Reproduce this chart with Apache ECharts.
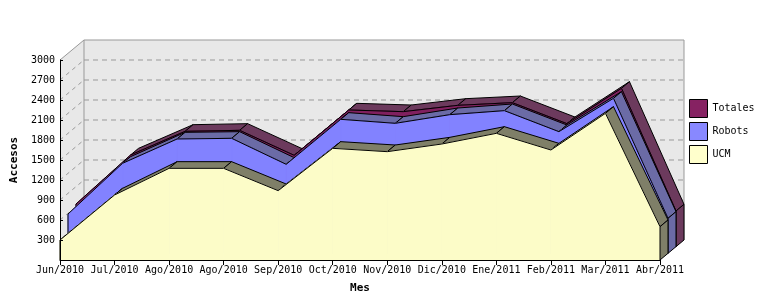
<!DOCTYPE html>
<html><head><meta charset="utf-8">
<script src="https://cdn.jsdelivr.net/npm/echarts@6/dist/echarts.min.js"></script>
<style>html,body{margin:0;padding:0;background:#fff}#c{width:760px;height:300px}</style>
</head><body><div id="c"></div>
<script>
const categories = ['Jun/2010','Jul/2010','Ago/2010','Ago/2010','Sep/2010','Oct/2010','Nov/2010','Dic/2010','Ene/2011','Feb/2011','Mar/2011','Abr/2011'];
const ucm     = [300, 975, 1375, 1375, 1040, 1675, 1625, 1740, 1900, 1650, 2200, 500];
const robots  = [590, 1350, 1715, 1725, 1335, 2010, 1950, 2080, 2140, 1825, 2325, 525];
const totales = [640, 1375, 1730, 1745, 1370, 2050, 2025, 2120, 2160, 1845, 2375, 535];
const yTicks  = [300, 600, 900, 1200, 1500, 1800, 2100, 2400, 2700, 3000];
const seriesNames = ['Totales', 'Robots', 'UCM'];

const MONO = "'DejaVu Sans Mono', 'Liberation Mono', monospace";
const DX = 8, DY = -20 / 3;
const FRONT = { Totales: '#80205f', Robots: '#8282ff', UCM: '#fcfcc8' };
const SIDE  = { Totales: '#6c3a5d', Robots: '#6b6ba6', UCM: '#7f7f68' };
const LEG   = { Totales: '#862262', Robots: '#8888ff', UCM: '#ffffcc' };

const chart = echarts.init(document.getElementById('c'));

function layer(name, values, k, z) {
  const front = FRONT[name], side = SIDE[name];
  return {
    type: 'custom', name: name, z: z,
    itemStyle: { color: LEG[name] },
    data: values.map((v, i) => [i, v]),
    renderItem: function (params, api) {
      const i = params.dataIndex, n = values.length;
      const ox = DX * k, oy = DY * k;
      const P = (x, v) => { const c = api.coord([x, v]); return [c[0] + ox, c[1] + oy]; };
      const sh = (p) => [p[0] + DX, p[1] + DY];
      const ch = [];
      const p0 = P(i, values[i]), b0 = P(i, 0);
      if (i < n - 1) {
        const p1 = P(i + 1, values[i + 1]), b1 = P(i + 1, 0);
        ch.push({ type: 'polygon', z2: 2, shape: { points: [p0, p1, b1, b0] },
                  style: { fill: front, stroke: front, lineWidth: 1 } });
        const sx = p1[0] - p0[0], sy = p1[1] - p0[1];
        if (sx * DY - sy * DX < 0) {
          ch.push({ type: 'polygon', z2: 1, shape: { points: [p0, p1, sh(p1), sh(p0)] },
                    style: { fill: side, stroke: '#000', lineWidth: 1 } });
        }
        ch.push({ type: 'polyline', z2: 4, shape: { points: [p0, p1] },
                  style: { stroke: '#000', lineWidth: 1, fill: null } });
      } else {
        ch.push({ type: 'polygon', z2: 3, shape: { points: [p0, sh(p0), sh(b0), b0] },
                  style: { fill: side, stroke: '#000', lineWidth: 1 } });
      }
      if (i === 0) {
        ch.push({ type: 'polyline', z2: 4, shape: { points: [p0, b0] },
                  style: { stroke: '#000', lineWidth: 1, fill: null } });
      }
      return { type: 'group', children: ch };
    }
  };
}

const walls = {
  type: 'custom', name: '_walls', z: 1, silent: true,
  data: [[0, 0]],
  renderItem: function (params, api) {
    const D = [DX * 3, DY * 3];
    const n = categories.length - 1;
    const bl = api.coord([0, 0]), tl = api.coord([0, 3000]), br = api.coord([n, 0]);
    const s = (p) => [p[0] + D[0], p[1] + D[1]];
    const ch = [];
    ch.push({ type: 'polygon', shape: { points: [tl, s(tl), s(bl), bl] },
              style: { fill: '#e8e8e8' } });
    const btl = s(tl), bbr = s(br);
    ch.push({ type: 'rect', shape: { x: btl[0], y: btl[1], width: bbr[0] - btl[0], height: bbr[1] - btl[1] },
              style: { fill: '#e8e8e8', stroke: '#999', lineWidth: 1 } });
    ch.push({ type: 'line', shape: { x1: tl[0], y1: tl[1], x2: btl[0], y2: btl[1] },
              style: { stroke: '#999', lineWidth: 1 } });
    yTicks.forEach(v => {
      const p = api.coord([0, v]);
      ch.push({ type: 'line', shape: { x1: btl[0], y1: p[1], x2: bbr[0], y2: p[1] },
                style: { stroke: '#999', lineWidth: 1, lineDash: [5, 4] } });
      ch.push({ type: 'line', shape: { x1: p[0], y1: p[1] - D[1], x2: p[0] + D[0], y2: p[1] },
                style: { stroke: '#999', lineWidth: 1, lineDash: [4, 4] } });
    });
    return { type: 'group', children: ch };
  }
};

const option = {
  animation: false,
  backgroundColor: '#fff',
  grid: { left: 60, right: 100, top: 60, bottom: 40, containLabel: false, outerBoundsMode: 'none' },
  legend: {
    orient: 'vertical', left: 689, top: 99, padding: 0, itemGap: 4,
    itemWidth: 18, itemHeight: 18, icon: 'rect',
    textStyle: { fontFamily: MONO, fontSize: 10, color: '#000' },
    data: seriesNames.map(n => ({ name: n, itemStyle: { color: LEG[n], borderColor: '#000', borderWidth: 1 } }))
  },
  xAxis: {
    type: 'category', data: categories, boundaryGap: false, z: 10,
    name: 'Mes', nameLocation: 'middle', nameGap: 23,
    nameTextStyle: { fontFamily: MONO, fontSize: 11, fontWeight: 'bold', color: '#000' },
    axisLine: { lineStyle: { color: '#000', width: 1 } },
    axisTick: { show: true, inside: false, length: 5, interval: 0, lineStyle: { color: '#000' } },
    axisLabel: { interval: 0, margin: 5, fontFamily: MONO, fontSize: 10, color: '#000', hideOverlap: false },
    splitLine: { show: false }
  },
  yAxis: {
    type: 'value', min: 0, max: 3000, interval: 300, z: 10,
    name: 'Accesos', nameLocation: 'middle', nameGap: 38,
    nameTextStyle: { fontFamily: MONO, fontSize: 11, fontWeight: 'bold', color: '#000' },
    axisLine: { show: true, lineStyle: { color: '#000', width: 1 } },
    axisTick: { show: true, inside: true, length: 3, lineStyle: { color: '#000' } },
    axisLabel: { showMinLabel: false, margin: 5, fontFamily: MONO, fontSize: 10, color: '#000',
                 padding: [4, 0, 0, 0], formatter: (v) => String(v) },
    splitLine: { show: false }
  },
  series: [
    walls,
    layer('Totales', totales, 2, 2),
    layer('Robots', robots, 1, 3),
    layer('UCM', ucm, 0, 4)
  ]
};
chart.setOption(option);
</script>
</body></html>
